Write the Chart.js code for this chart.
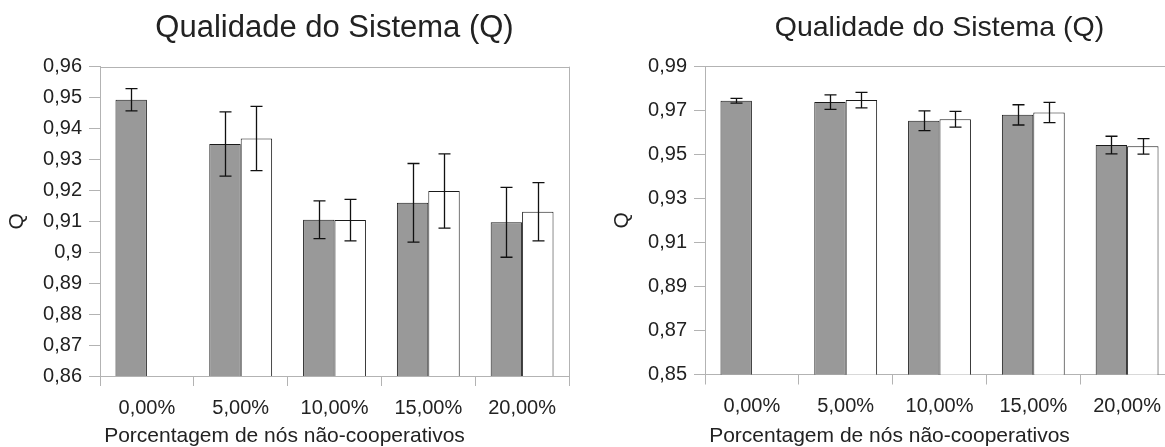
<!DOCTYPE html>
<html lang="pt-BR">
<head>
<meta charset="utf-8">
<title>Qualidade do Sistema (Q)</title>
<script src="https://cdn.jsdelivr.net/npm/chart.js@4.4.1/dist/chart.umd.min.js"></script>
<style>
  html, body { margin: 0; padding: 0; background: #fff; }
  body { width: 1165px; height: 447px; overflow: hidden; position: relative; }
  .grafico { position: absolute; top: 0; width: 578px; height: 447px; }
  #graficoEsq { left: 0; }
  #graficoDir { left: 605px; }
</style>
</head>
<body>
<div class="grafico" id="graficoEsq"><canvas id="canvasEsq" width="578" height="447"></canvas></div>
<div class="grafico" id="graficoDir"><canvas id="canvasDir" width="578" height="447"></canvas></div>

<script>
const categorias = ['0,00%', '5,00%', '10,00%', '15,00%', '20,00%'];

// gráfico da esquerda: média de Q e desvio (meia altura da barra de erro)
const qCinzaEsq    = [0.9493, 0.9350, 0.9105, 0.9160, 0.9097];
const errCinzaEsq  = [0.0036, 0.0104, 0.0061, 0.0127, 0.0113];
const qBrancoEsq   = [null,   0.9368, 0.9104, 0.9198, 0.9131];
const errBrancoEsq = [null,   0.0104, 0.0067, 0.0120, 0.0094];
const eixoEsq = { min: 0.86, max: 0.96, passo: 0.01 };

// gráfico da direita
const qCinzaDir    = [0.9743, 0.9737, 0.9652, 0.9679, 0.9542];
const errCinzaDir  = [0.0011, 0.0033, 0.0045, 0.0046, 0.0040];
const qBrancoDir   = [null,   0.9746, 0.9659, 0.9690, 0.9536];
const errBrancoDir = [null,   0.0035, 0.0036, 0.0046, 0.0035];
const eixoDir = { min: 0.85, max: 0.99, passo: 0.02 };

const fonte = "'Liberation Sans', Arial, sans-serif";
const corTexto = '#222222';
const corEixo  = '#b3b3b3';

// desenha as barras de erro (média ± desvio) sobre cada barra
const barrasDeErro = {
    id: 'barrasDeErro',
    afterDatasetsDraw(chart) {
        const ctx = chart.ctx;
        const y = chart.scales.y;
        ctx.save();
        ctx.strokeStyle = '#111111';
        ctx.lineWidth = 1.3;
        chart.data.datasets.forEach((ds, i) => {
            const meta = chart.getDatasetMeta(i);
            meta.data.forEach((barra, j) => {
                const v = ds.data[j];
                const e = ds.erro[j];
                if (v == null || e == null) return;
                const x = Math.round(barra.x) + 0.5;
                const topo = y.getPixelForValue(v + e);
                const base = y.getPixelForValue(v - e);
                ctx.beginPath();
                ctx.moveTo(x, topo);
                ctx.lineTo(x, base);
                ctx.moveTo(x - 6, topo);
                ctx.lineTo(x + 6, topo);
                ctx.moveTo(x - 6, base);
                ctx.lineTo(x + 6, base);
                ctx.stroke();
            });
        });
        ctx.restore();
    }
};

// linhas de cima e da direita da área do gráfico
const moldura = {
    id: 'moldura',
    beforeDatasetsDraw(chart) {
        const { ctx, chartArea: a } = chart;
        ctx.save();
        ctx.strokeStyle = corEixo;
        ctx.lineWidth = 1;
        ctx.beginPath();
        ctx.moveTo(a.left, Math.round(a.top) + 0.5);
        ctx.lineTo(a.right, Math.round(a.top) + 0.5);
        ctx.moveTo(Math.round(a.right) + 0.5, a.top);
        ctx.lineTo(Math.round(a.right) + 0.5, a.bottom);
        ctx.stroke();
        ctx.restore();
    }
};

function criarGrafico(id, cinza, errCinza, branco, errBranco, eixo, tamTitulo, padTitulo, alturaX) {
    return new Chart(document.getElementById(id), {
        type: 'bar',
        data: {
            labels: categorias,
            datasets: [
                {
                    data: cinza, erro: errCinza,
                    backgroundColor: '#999999', borderColor: '#1a1a1a', borderWidth: 1,
                    borderSkipped: false, categoryPercentage: 0.67, barPercentage: 1.0
                },
                {
                    data: branco, erro: errBranco,
                    backgroundColor: '#ffffff', borderColor: '#1a1a1a', borderWidth: 1,
                    borderSkipped: false, categoryPercentage: 0.67, barPercentage: 1.0
                }
            ]
        },
        options: {
            responsive: false,
            animation: false,
            layout: { padding: { left: 0, right: 9, top: 0, bottom: 0 } },
            plugins: {
                legend: { display: false },
                tooltip: { enabled: false },
                title: {
                    display: true,
                    text: 'Qualidade do Sistema (Q)',
                    fullSize: false,
                    color: corTexto,
                    font: { family: fonte, size: tamTitulo, weight: 'normal', lineHeight: 1.2 },
                    padding: padTitulo
                },
                subtitle: {
                    display: true,
                    position: 'bottom',
                    text: 'Porcentagem de nós não-cooperativos',
                    fullSize: true,
                    color: corTexto,
                    font: { family: fonte, size: 21, weight: 'normal', lineHeight: 1 },
                    padding: { top: 0, bottom: 0 }
                }
            },
            scales: {
                x: {
                    grid: { display: true, drawOnChartArea: false, drawTicks: true, tickLength: 10, color: corEixo, offset: true },
                    border: { display: true, color: corEixo },
                    ticks: { color: corTexto, font: { family: fonte, size: 20 }, padding: 10, maxRotation: 0, autoSkip: false },
                    afterFit(s) { s.height = alturaX; }
                },
                y: {
                    min: eixo.min,
                    max: eixo.max,
                    grid: { display: true, drawOnChartArea: false, drawTicks: true, tickLength: 11, color: corEixo },
                    border: { display: true, color: corEixo },
                    ticks: {
                        stepSize: eixo.passo,
                        color: corTexto,
                        font: { family: fonte, size: 20 },
                        padding: 7,
                        callback: v => String(Math.round(v * 100) / 100).replace('.', ',')
                    },
                    title: {
                        display: true, text: 'Q', color: corTexto,
                        font: { family: fonte, size: 21 },
                        padding: { top: 5, bottom: 0 }
                    },
                    afterFit(s) { s.width = 100; }
                }
            }
        },
        plugins: [moldura, barrasDeErro]
    });
}

criarGrafico('canvasEsq', qCinzaEsq, errCinzaEsq, qBrancoEsq, errBrancoEsq, eixoEsq, 31, { top: 10, bottom: 19.5 }, 50);
criarGrafico('canvasDir', qCinzaDir, errCinzaDir, qBrancoDir, errBrancoDir, eixoDir, 28.5, { top: 11, bottom: 21 }, 51.5);
</script>
</body>
</html>
